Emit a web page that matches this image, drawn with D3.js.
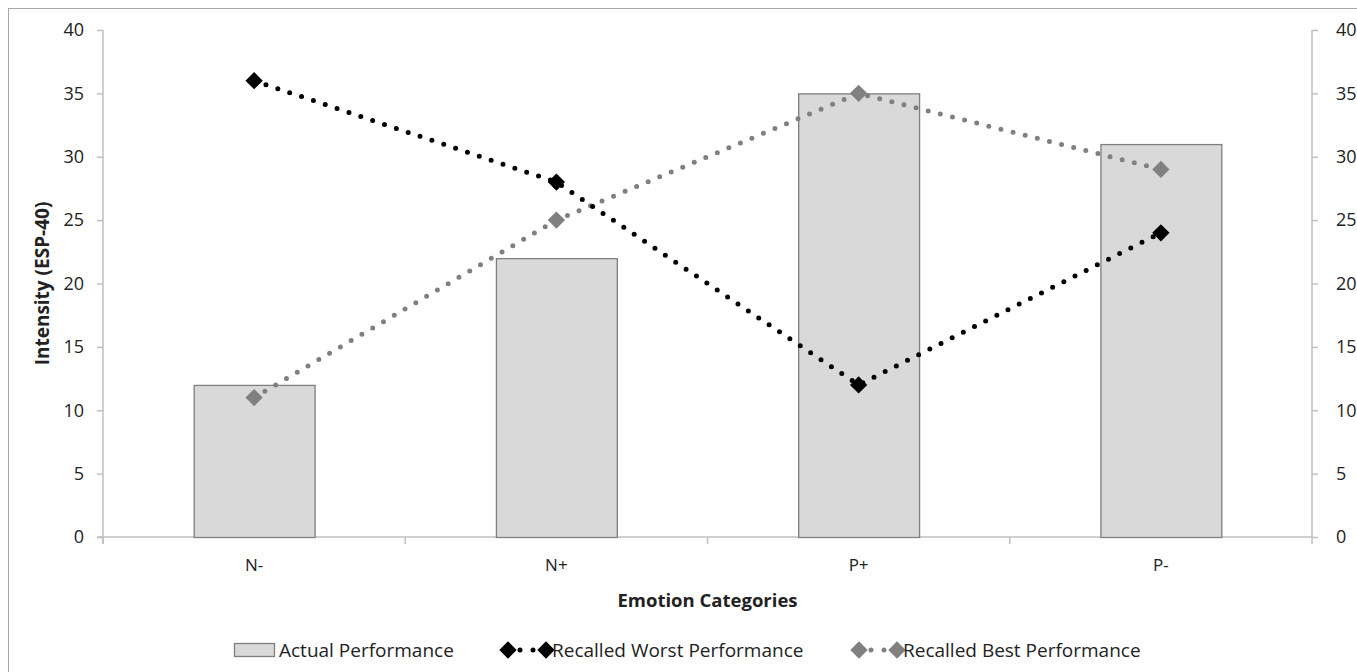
<!DOCTYPE html>
<html><head><meta charset="utf-8">
<script src="https://cdn.jsdelivr.net/npm/d3@7"></script>
<style>body{margin:0;background:#fff}svg{display:block}text{font-family:"Open Sans",sans-serif;fill:#222}</style>
</head><body><svg id="c" width="1357" height="672"></svg>
<script>
const categories = ["N-","N+","P+","P-"];
const actual = [12,22,35,31];
const worst = [36,28,12,24];
const best = [11,25,35,29];
const yTicks = [0,5,10,15,20,25,30,35,40];
const legendLabels = ["Actual Performance","Recalled Worst Performance","Recalled Best Performance"];

const svg = d3.select("#c");
const L=103, R=1312, T=30, B=537;
svg.append("rect").attr("x",8.5).attr("y",8.5).attr("width",1360).attr("height",680).attr("fill","none").attr("stroke","#a6a6a6");

const x = d3.scaleBand().domain(categories).range([L,R]).paddingInner(0.6).paddingOuter(0.3);
const xb = d3.scaleBand().domain(categories).range([L,R]);
const y = d3.scaleLinear().domain([0,40]).range([B,T]);

const axCol="#bfbfbf";
const gl = svg.append("g").attr("transform",`translate(${L},0)`).call(d3.axisLeft(y).tickValues(yTicks).tickSize(6).tickPadding(13));
const gr = svg.append("g").attr("transform",`translate(${R},0)`).call(d3.axisRight(y).tickValues(yTicks).tickSize(6).tickPadding(18));
[gl,gr].forEach(g=>{g.select(".domain").attr("stroke",axCol).attr("stroke-width",1.5).attr("d",g===gl?`M0,${T}V${B+7}`:`M0,${T}V${B}`);g.selectAll(".tick line").attr("stroke",axCol).attr("stroke-width",1.5);g.selectAll("text").style("font-size","18px").attr("fill","#222");});
svg.append("line").attr("x1",L-6).attr("x2",R).attr("y1",B).attr("y2",B).attr("stroke",axCol).attr("stroke-width",1.5);
const bounds = categories.map(c=>xb(c)).concat([R]);
svg.selectAll(".xt").data(bounds).enter().append("line").attr("x1",d=>d).attr("x2",d=>d).attr("y1",B).attr("y2",B+7).attr("stroke",axCol).attr("stroke-width",1.5);
svg.selectAll(".xl").data(categories).enter().append("text").attr("x",d=>xb(d)+xb.bandwidth()/2).attr("y",B+34).attr("text-anchor","middle").style("font-size","17px").text(d=>d);

svg.selectAll(".bar").data(actual).enter().append("rect")
 .attr("x",(d,i)=>x(categories[i])+0.5).attr("y",d=>y(d)+0.5).attr("width",x.bandwidth()).attr("height",d=>B-y(d))
 .attr("fill","#d9d9d9").attr("stroke","#7f7f7f").attr("stroke-width",1.3);

const cx = i=>xb(categories[i])+xb.bandwidth()/2;
function series(vals,col){
  const line=d3.line().x((d,i)=>cx(i)).y(d=>y(d));
  svg.append("path").datum(vals).attr("d",line).attr("fill","none").attr("stroke",col).attr("stroke-width",5).attr("stroke-linecap","round").attr("stroke-dasharray","0,12.5");
  svg.selectAll(null).data(vals).enter().append("path").attr("d",d3.symbol(d3.symbolSquare,150)())
   .attr("transform",(d,i)=>`translate(${cx(i)},${y(d)}) rotate(45)`).attr("fill",col);
}
series(best,"#808080");
series(worst,"#000");

svg.append("text").attr("transform",`translate(49,${(T+B)/2}) rotate(-90)`).attr("text-anchor","middle").style("font-size","19px").style("font-weight","bold").attr("fill","#000").text("Intensity (ESP-40)");
svg.append("text").attr("x",(L+R)/2).attr("y",607).attr("text-anchor","middle").style("font-size","18.5px").style("font-weight","bold").attr("fill","#000").text("Emotion Categories");

const ly=650;
svg.append("rect").attr("x",234.5).attr("y",ly-6.5).attr("width",40).attr("height",13).attr("fill","#d9d9d9").attr("stroke","#7f7f7f").attr("stroke-width",1.3);
svg.append("text").attr("x",279).attr("y",ly+6.5).style("font-size","19px").text(legendLabels[0]);
function legSeries(x0,col,label){
  svg.append("line").attr("x1",x0+12).attr("x2",x0+28).attr("y1",ly).attr("y2",ly).attr("stroke",col).attr("stroke-width",5).attr("stroke-linecap","round").attr("stroke-dasharray","0,13");
  [x0,x0+38].forEach(xx=>svg.append("path").attr("d",d3.symbol(d3.symbolSquare,150)()).attr("transform",`translate(${xx},${ly}) rotate(45)`).attr("fill",col));
  svg.append("text").attr("x",x0+44).attr("y",ly+6.5).style("font-size","19px").text(label);
}
legSeries(508,"#000",legendLabels[1]);
legSeries(859,"#808080",legendLabels[2]);
</script></body></html>
